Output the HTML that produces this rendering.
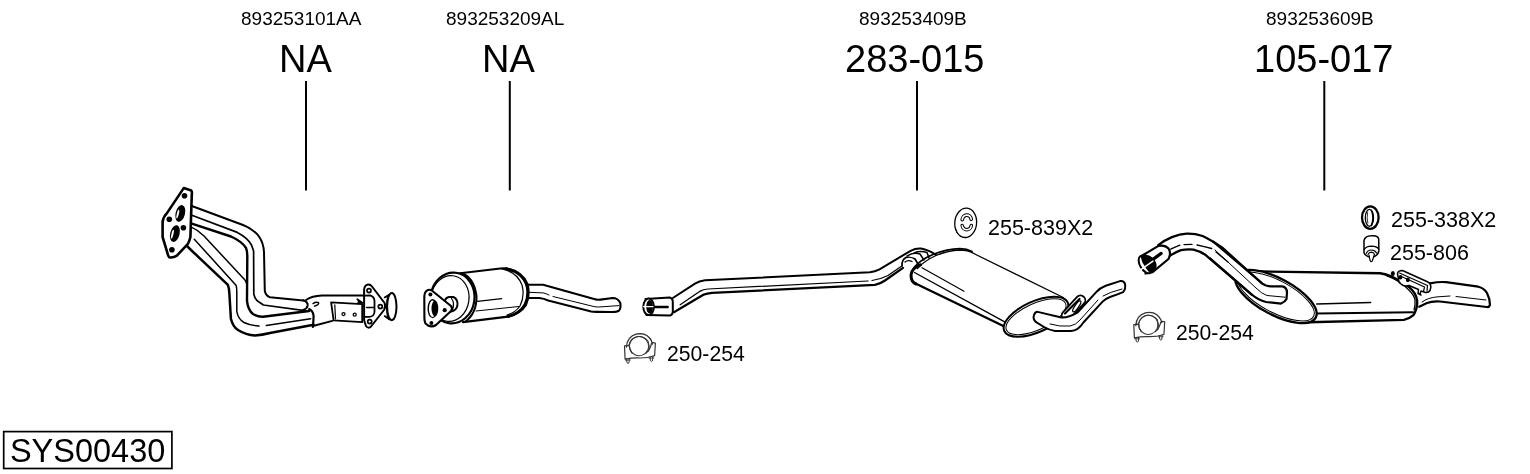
<!DOCTYPE html>
<html><head><meta charset="utf-8">
<style>
html,body{margin:0;padding:0;background:#fff;width:1530px;height:474px;overflow:hidden}
svg{display:block;will-change:transform}
text{font-family:"Liberation Sans",sans-serif;fill:#000}
</style></head><body>
<svg width="1530" height="474" viewBox="0 0 1530 474">
<g id="labels">
<text x="241" y="25" font-size="19">893253101AA</text>
<text x="279" y="72" font-size="38">NA</text>
<text x="446" y="25" font-size="19">893253209AL</text>
<text x="482" y="72" font-size="38">NA</text>
<text x="859" y="25" font-size="19">893253409B</text>
<text x="845" y="72" font-size="38">283-015</text>
<text x="1266" y="25" font-size="19">893253609B</text>
<text x="1254" y="72" font-size="38">105-017</text>
<text x="988" y="235" font-size="21.5">255-839X2</text>
<text x="1391" y="227" font-size="21.5">255-338X2</text>
<text x="1390" y="260" font-size="21.5">255-806</text>
<text x="667" y="361" font-size="21.2">250-254</text>
<text x="1176" y="340" font-size="21.2">250-254</text>
<text x="9.9" y="462" font-size="32.5">SYS00430</text>
</g>
<g stroke="#000" stroke-width="2" fill="none">
<line x1="306" y1="81" x2="306" y2="190.5"/>
<line x1="509.8" y1="81" x2="509.8" y2="190.5"/>
<line x1="917" y1="81" x2="917" y2="190.5"/>
<line x1="1324.3" y1="81" x2="1324.3" y2="190.5"/>
<rect x="3.7" y="431.6" width="168.2" height="36.9" stroke-width="1.7"/>
</g>
<g id="p1" fill="none" stroke="#000" stroke-linecap="round" stroke-linejoin="round">
<!-- pipes -->
<path d="M192.5,206.2 L243,225 Q254,229.5 259,236.5 Q263.5,243 264,252 L264.8,291 Q266,296 270,297.3 L303.2,300.5" stroke-width="2"/>
<path d="M192.5,215.5 L237.3,232.4 Q248,238 251.5,245 L253.6,251 L253.8,294 Q255,300 259,302 L263.4,305 L304.7,310.6" stroke-width="1.7"/>
<path d="M191.8,223.6 L231,236.5 Q242,241.5 246,248 Q247.3,251 247.3,256 L247,301 Q248,310 253,314 Q258,317 263,316.8 L309.1,311" stroke-width="2.4"/>
<path d="M191.8,227.4 Q198,230 204,236 L244.5,279.5 Q246,281 246.4,283" stroke-width="1.5"/>
<path d="M194.3,239.2 L236.2,285.5 Q236.8,288 236.8,292 L236.8,311.4 Q238,319 244,322.5 Q250,325.5 259,326.1 M266.3,325.4 L310.6,318.7" stroke-width="1.5"/>
<path d="M186,245 L191,250 L227.9,284.8 Q229.4,289 229.4,294 L230.9,318.7 Q233,327 238,330 Q246,335 255,335.5 Q262,335 270,333 L313.6,324.7" stroke-width="2.5"/>
<!-- joint caps -->
<path d="M303.2,300.3 Q308,302 307.7,305.4 Q307,309 303.2,309.9" stroke-width="2"/>
<path d="M309.1,309.1 Q313,311 313.6,315.8 L313.3,322 Q313,326 312.8,327" stroke-width="2.2"/>
<path d="M313,303.6 Q316,301.6 318.6,302.6 Q319.2,304.8 314.5,306.2" stroke-width="1.4"/>
<!-- collector -->
<path d="M306,300 Q312,296 322,295.6 L362.2,295.4 Q370,296 373.4,301.6 L373.4,315.3" stroke-width="2"/>
<path d="M313,326 L332.3,320.9" stroke-width="2"/>
<!-- bracket -->
<path d="M331.1,302.3 L362.2,304.1 L362.2,322.2 L333.6,320.3 Z" stroke-width="1.8" fill="#fff"/>
<path d="M334.8,304.8 L335.5,319" stroke-width="1.2"/>
<path d="M357.2,299.2 L362.8,302.9 L358,303" stroke-width="1.6" fill="#000"/>
<circle cx="343.5" cy="314.1" r="1.5" stroke-width="1.3"/>
<circle cx="354.7" cy="314.7" r="1.5" stroke-width="1.3"/>
<!-- small flange -->
<path d="M367.2,284.8 Q370,284 372,286.5 L384.6,303 Q386,306.6 384,310 L371,326.5 Q368.4,329 366,326 L364.1,320.3 L364.1,289.8 Q364.5,285.5 367.2,284.8 Z" stroke-width="2" fill="#fff"/>
<path d="M365,295.6 L370,295.4 Q374.3,296.5 374.5,301 L374.5,312 Q374,316.5 369.5,316.8 L365,316.8" stroke-width="1.8"/>
<path d="M366.5,307.5 L374,307.5" stroke-width="1.3"/>
<circle cx="369" cy="290.6" r="2" stroke-width="1.7"/>
<circle cx="380.3" cy="306.6" r="2" stroke-width="1.7"/>
<circle cx="369.7" cy="321.6" r="2" stroke-width="1.7"/>
<path d="M384.6,297.5 L389.5,294.5 M384.6,316 L389.5,319.5" stroke-width="1.6"/>
<ellipse cx="391.8" cy="306.6" rx="4.7" ry="13.6" stroke-width="2" fill="#fff"/>
<path d="M387.5,296 Q386,306 387.5,318" stroke-width="1.2"/>
<!-- flange -->
<path d="M183.7,188.1 L191.3,190.6 Q192.2,191.5 191.8,194 L190.4,237 Q189.5,241 187.9,243.8 L176.9,255.6 Q173,258 169.3,257.3 Q168,256 167.7,253.9 L162.6,237 L162.6,221.8 Q163.5,216.5 166.8,213.4 Z" stroke-width="2.6" fill="#fff"/>
<g fill="#000" stroke="none">
<circle cx="184.5" cy="195.7" r="2.8"/>
<circle cx="169.3" cy="219.3" r="2.8"/>
<circle cx="183.4" cy="227.7" r="2.8"/>
<circle cx="171.9" cy="249.7" r="2.8"/>
<ellipse cx="180.3" cy="213.4" rx="4.7" ry="8.5" transform="rotate(14 180.3 213.4)"/>
<ellipse cx="174.9" cy="233.6" rx="4.7" ry="8.5" transform="rotate(14 174.9 233.6)"/>
</g>
<g fill="#fff" stroke="none">
<ellipse cx="177.8" cy="214" rx="1" ry="4.5" transform="rotate(14 177.8 214)"/>
<ellipse cx="172.4" cy="234.2" rx="1" ry="4.5" transform="rotate(14 172.4 234.2)"/>
</g>
</g>
<g id="p2" fill="none" stroke="#000" stroke-linecap="round" stroke-linejoin="round">
<!-- outlet pipe -->
<path d="M522,284.8 L543.1,284.7 L595,299.2 Q597.5,300 600.5,299.6 L612.7,298 Q618,298 620.3,303 Q621.2,308 619,310.6 Q617,312 612,312 L596.3,311.9 Q593,311.9 591.2,311.5 L548.2,300.5 Q544,298.5 539.3,298 L522,298" stroke-width="2.1" fill="#fff"/>
<path d="M529.2,292.3 L543.1,292.9 Q546,293.5 549,295 M553,296.5 L595,306.8 Q598,307.2 602,306.8 L619,305.6" stroke-width="1"/>
<!-- body -->
<path d="M458,273.5 L500.3,268.5 Q512,267.5 520,275 Q528,283 527.5,293 Q527,306 517,313 Q511,316.5 506,316.8 L463,322.2" stroke-width="2.2" fill="#fff"/>
<path d="M502,269 Q517,272 522,285 Q525,296 520,306 Q515,313 507,315" stroke-width="1.2"/>
<path d="M477.4,301.4 L501.7,298.6" stroke-width="1.2"/>
<path d="M506,268.7 Q521.5,271.5 527,284 Q530,295 525.5,305 Q520,313.5 508,316.5" stroke-width="3"/>
<path d="M476,311 L519,306.5" stroke-width="1"/>
<!-- front rings -->
<ellipse cx="452.5" cy="298" rx="22" ry="25.5" transform="rotate(8 452.5 298)" stroke-width="2.2" fill="#fff"/>
<ellipse cx="450" cy="298.5" rx="19" ry="23" transform="rotate(8 450 298.5)" stroke-width="1.2"/>
<path d="M461,273 Q474,277 476.5,296 Q477,313 465,322" stroke-width="2"/>
<!-- stub -->
<path d="M444.7,301 Q446,297.3 449,297 L453.2,297 Q457,298.5 457.5,303 Q457.8,308 454,310.5 L448,312.5" stroke-width="1.9" fill="#fff"/>
<path d="M451.5,298.5 Q455,303 452.5,309.5" stroke-width="1.2"/>
<!-- flange -->
<path d="M426.5,290.8 Q429,289 431.5,290.2 L451,306 Q453,308.5 451,311 L436,325 Q432,327.5 428,325.5 L425.5,323.5 Q424.3,321 424.4,318 L424.3,297 Q424.5,292.5 426.5,290.8 Z" stroke-width="2.1" fill="#fff"/>
<g fill="#000" stroke="none">
<circle cx="430.4" cy="294.6" r="2"/>
<circle cx="444.7" cy="310.2" r="2.1"/>
<circle cx="431.4" cy="323" r="2"/>
</g>
<ellipse cx="432.6" cy="308.7" rx="4.4" ry="8.9" stroke-width="1.4" fill="#fff"/>
<ellipse cx="434.9" cy="308.4" rx="3.4" ry="7.8" fill="#000" stroke="none"/>
</g>
<g id="p3" fill="none" stroke="#000" stroke-linecap="round" stroke-linejoin="round">
<!-- middle pipe -->
<path d="M672.8,298 L695,283.7 Q699,281 705,280.3 L869.9,272.2 Q875,271.6 879.5,269.3 L910.6,250.8 Q916,248 921,248.5 Q929,250 936,255" stroke-width="2"/>
<path d="M673.9,312.2 L703.4,294.8 Q707,293.2 712,292.8 L875,284.9 Q880,284 885,280.5 L903,267.8" stroke-width="2.2"/>
<path d="M680.2,304.8 L700.3,291.1 Q703,289.5 708,289 L868,281 M872,280.5 Q880,279.5 888,275.5 L901.8,266" stroke-width="1.25"/>
<!-- slotted end -->
<path d="M645.4,299 L669.7,297.4 Q672.8,298 672.8,302 L672.8,312.2 Q672,315.4 669.7,315.4 L646.4,314.9" stroke-width="2" fill="#fff"/>
<ellipse cx="648.6" cy="306.8" rx="5.3" ry="8.2" stroke-width="2" fill="#fff"/>
<ellipse cx="649.6" cy="306.8" rx="3.4" ry="6.8" fill="#000" stroke="none"/>
<path d="M652,307 L667.6,307" stroke-width="2.5"/>
<path d="M643.5,306.6 L653,306.6" stroke="#fff" stroke-width="1.3"/>
<!-- hanger at front -->
<path d="M902,266 Q901.5,260 906,257.5 Q911,255.5 915,259 L918,264" stroke-width="1.7" fill="#fff"/>
<path d="M905,262 Q908,259.5 912,261.5" stroke-width="1.3"/>
<path d="M907,256 Q913,252 920,254 L924,260 M914,253 Q920,250.5 927,252.5 L929,258" stroke-width="1.5" fill="#fff"/>
<!-- muffler body -->
<path d="M973.3,253.3 L1063.3,297.5" stroke-width="1.2"/>
<path d="M917.5,268.5 Q924,261 936,255.5 Q948,250.5 960,250 Q968,250 973.3,253.3" stroke-width="1.3"/>
<path d="M914.5,267 Q921,259.5 934,254 Q947,249 960,248.6 Q967,248.8 972,251.5" stroke-width="1.8"/>
<path d="M915.5,283.5 L1007.5,328" stroke-width="2.4"/>
<path d="M914.5,272.5 L1006.5,322.8" stroke-width="1.4"/>
<path d="M922,267.7 L964,291.3" stroke-width="1.2"/>
<path d="M920.5,264.8 Q911.5,268 911,275 Q911,282 916,284" stroke-width="3"/>
<!-- rear cap -->
<ellipse cx="1036" cy="316.7" rx="34.8" ry="15.4" transform="rotate(-24.3 1036 316.7)" stroke-width="2" fill="#fff"/>
<ellipse cx="1036" cy="316.7" rx="32.4" ry="13.2" transform="rotate(-24.3 1036 316.7)" stroke-width="1"/>
<!-- hanger ring rear -->
<rect x="1058.5" y="303" width="30" height="9.5" rx="4.7" transform="rotate(-47 1073.5 307.7)" stroke-width="1.8" fill="#fff"/>
<path d="M1065,313.5 L1079.5,299" stroke-width="2.2"/>
<ellipse cx="1076.8" cy="306.4" rx="6.5" ry="1.9" transform="rotate(-55 1076.8 306.4)" stroke-width="1.3"/>
<!-- outlet -->
<path d="M1037.7,311.9 L1061.4,317.5 Q1068,318 1077.3,312.7 L1096.2,292.1 Q1100,288 1105.7,285.8 L1120,281.1 Q1124,280.5 1125,284 Q1126,289 1123.1,292.1 Q1116,295 1110,297 Q1105,299 1102.6,301.6 L1083.6,322.2 Q1078,330.9 1070.9,330.9 L1055.1,330.9 Q1049,330 1044,327 L1036.1,322.2 Q1032.5,319 1034,315 Q1035.5,311.5 1037.7,311.9 Z" stroke-width="2" fill="#fff"/>
<path d="M1050,324 Q1060,327 1070,326 Q1076,325 1080,320 L1098,300 M1103,296 Q1110,292 1122,289" stroke-width="1"/>
</g>
<g id="p4" fill="none" stroke="#000" stroke-linecap="round" stroke-linejoin="round">
<!-- tailpipe -->
<path d="M1425,283 L1430,283.3 Q1440,281.5 1446,282.2 L1478.3,286.7 Q1484,288 1487,293 Q1490,299 1490,305 Q1489,307.5 1486.7,307 L1440,301.5 Q1432,301 1427,303 L1419.2,306.7" stroke-width="2.2" fill="#fff"/>
<path d="M1422,302 Q1428,297.5 1438,296.8 L1450,296 M1456,296.5 L1486,300" stroke-width="1"/>
<!-- muffler body -->
<path d="M1251,271.3 L1380.2,273.2 Q1386,274 1391.2,276.4 Q1401,281 1408.6,286.7 Q1416,293 1417,300 Q1418,308 1413.4,315.2 Q1409,319 1403.9,319.9 L1308.3,322.3" stroke-width="2.4" fill="#fff"/>
<path d="M1386.5,275.6 Q1401,281 1408.6,289.8 Q1414,295 1415,300 Q1415.5,306 1414,310" stroke-width="1.3"/>
<path d="M1316.7,304 L1370.7,302.5" stroke-width="1.4"/>
<path d="M1316.5,313.6 L1413,312.2" stroke-width="2"/>
<!-- bracket -->
<path d="M1397.5,273.5 Q1398,270.5 1402.5,270.5 L1428.5,282.3 Q1431,284 1430.8,287.5 L1430,290.5 Q1428.5,293 1425.5,292.5 L1421,291 Q1419.5,294 1421,295 L1418,293.5 L1418.5,289.5 L1409,285.5 Q1404,287 1401,284 Q1398,282 1398.5,279 Z" stroke-width="1.5" fill="#fff"/>
<path d="M1399.5,273 L1427.5,285.5 L1427,291 M1402,276.8 L1424.5,287 L1423.5,291.5" stroke-width="1.2"/>
<g fill="#000" stroke="none">
<ellipse cx="1392.8" cy="273.5" rx="2" ry="2.6"/>
<ellipse cx="1400.5" cy="277.3" rx="1.9" ry="2.3"/>
<ellipse cx="1407.8" cy="279.8" rx="2" ry="2.4"/>
</g>
<!-- front cap ellipse -->
<ellipse cx="1276" cy="296.5" rx="45" ry="18.2" transform="rotate(28 1276 296.5)" stroke-width="2.3" fill="#fff"/>
<ellipse cx="1276" cy="296.5" rx="42.5" ry="16" transform="rotate(28 1276 296.5)" stroke-width="1"/>
<!-- inlet pipe into cap -->
<path d="M1213.3,241.7 L1262.4,283.5 Q1266,286.4 1271,286.4 L1282.5,286.4 Q1287,287.5 1287,292.5 L1286.5,299 Q1285,302 1281,303.6 L1266,302 Q1258,300 1252.4,295 L1210,258.3" stroke-width="2.2" fill="#fff"/>
<path d="M1215,250 L1256,288 Q1262,294 1267,295.5 L1285,297.2" stroke-width="1"/>
<!-- rear pipe -->
<path d="M1158.2,245.1 Q1165,240 1171.9,237.1 Q1180,234 1186.7,233.7 Q1195,233.5 1202.6,236 Q1211,240 1222,247.4 L1262,283.5" stroke-width="2.3"/>
<path d="M1170.7,255.3 Q1176,252 1181,250.2 Q1187,249 1193.5,249.6 Q1200,251 1206,255.3 L1252,295" stroke-width="2.3"/>
<path d="M1170.7,249.1 Q1175,247 1179.8,245.1 M1184,244.6 L1192,244.4 M1197,245 Q1204,246.5 1211.7,248.5 M1216,252 L1228,262" stroke-width="1.3"/>
<!-- slotted end -->
<path d="M1141.5,256 L1158.5,245.9 Q1165,244.5 1168.5,248.5 Q1171.5,253 1168.5,259 L1152.6,272.1 L1145.5,273.5" stroke-width="2.2" fill="#fff"/>
<ellipse cx="1145.2" cy="264.5" rx="9.6" ry="5.2" transform="rotate(60 1145.2 264.5)" stroke-width="2" fill="#fff"/>
<path d="M1141.5,256.5 Q1147,254 1152,258 Q1157,263 1155.5,268 Q1153.5,272 1149,271 Q1145,266 1143,262 Z" fill="#000" stroke="#000" stroke-width="1.5"/>
<path d="M1151.5,260.5 L1161,253.5" stroke-width="3.4"/>
<path d="M1141.2,269.3 L1153,261.2" stroke="#fff" stroke-width="1.5"/>
</g>
<g id="icons" fill="none" stroke="#000" stroke-linecap="round" stroke-linejoin="round">
<!-- 255-839X2 oval -->
<ellipse cx="965.7" cy="222.8" rx="10.9" ry="14.7" transform="rotate(5 965.7 222.8)" stroke-width="1.3"/>
<path d="M955.3,228 Q957.5,237.8 965.5,237.8" stroke-width="0.9"/>
<path d="M962.3,219.6 A4.5,4.9 0 0 1 971.2,219.1" stroke-width="3.7"/>
<path d="M962.3,219.6 A4.5,4.9 0 0 1 971.2,219.1" stroke="#fff" stroke-width="1.7"/>
<path d="M962.2,225.6 A4.6,4.8 0 0 0 971.3,225.6" stroke-width="3.5"/>
<path d="M962.2,225.6 A4.6,4.8 0 0 0 971.3,225.6" stroke="#fff" stroke-width="1.5"/>
<!-- 255-338X2 ring -->
<ellipse cx="1370.3" cy="217.6" rx="8.3" ry="11.2" stroke-width="2.3"/>
<ellipse cx="1369.4" cy="217.8" rx="4.1" ry="8.5" stroke-width="1.3"/>
<path d="M1371.5,210.5 Q1374.5,217.5 1371.5,225.5" stroke-width="1.6"/>
<path d="M1367.6,212.5 Q1366.6,218 1367.8,223" stroke-width="0.8"/>
<!-- 255-806 bump stop -->
<path d="M1364,252.5 L1364,240.5 Q1365,236 1371.3,235.8 Q1378,235 1378.7,239 L1378.9,251 Q1378,255 1374.5,256.5 Q1371.3,257.8 1368,256.5 Q1364.5,255 1364,252.5 Z" stroke-width="1.5"/>
<path d="M1364.2,249.5 Q1366,246.2 1371.3,246.1 Q1377,246.2 1378.6,249" stroke-width="1.4"/>
<path d="M1366.5,253.2 Q1367.5,250 1371.3,250 Q1375,250 1376.5,253" stroke-width="1.2"/>
<path d="M1368,254.5 Q1369,252.2 1371.3,252.1 Q1373.8,252.2 1374.5,254.5" stroke-width="1.1"/>
<path d="M1369,255 L1370.1,260.5 Q1371.3,263 1372.5,260.5 L1374.2,255" stroke-width="1.2" fill="#fff"/>
<!-- clamps -->
<g id="clamp" stroke-width="1.05" stroke="#333">
<path d="M626.5,347 Q627,337 636,334.2 Q640,333.3 644,334.2 Q651,337 652.5,344" stroke-width="1.3"/>
<path d="M629,345 Q631,338 638,336.5 Q644,336 648,341 Q650,346 648.5,351"/>
<ellipse cx="639" cy="346.1" rx="9.6" ry="9.6" transform="rotate(-20 639 346.1)"/>
<path d="M624.5,345.8 L629.3,345.5 Q629.5,350 632,353 M624.5,345.8 L625.1,359.2 Q633,357.5 640,358 Q648,358 654.6,355.8 L655.4,343.2 Q653,342 651.5,343.5 Q650,350 646,353" stroke-width="1.2"/>
<path d="M626.5,359 L627,362.8 Q628,364 629,362.8 L629.3,358.7 M650,356.7 L650.5,360.8 Q651.5,362 652.5,360.8 L652.9,356" stroke-width="1"/>
<path d="M625.5,360.2 L630.3,360" stroke-width="0.9"/>
<path d="M649,358.2 L653.8,358" stroke-width="0.9"/>
</g>
<use href="#clamp" transform="translate(509.3 -21.3)"/>
</g>
</svg>
</body></html>
